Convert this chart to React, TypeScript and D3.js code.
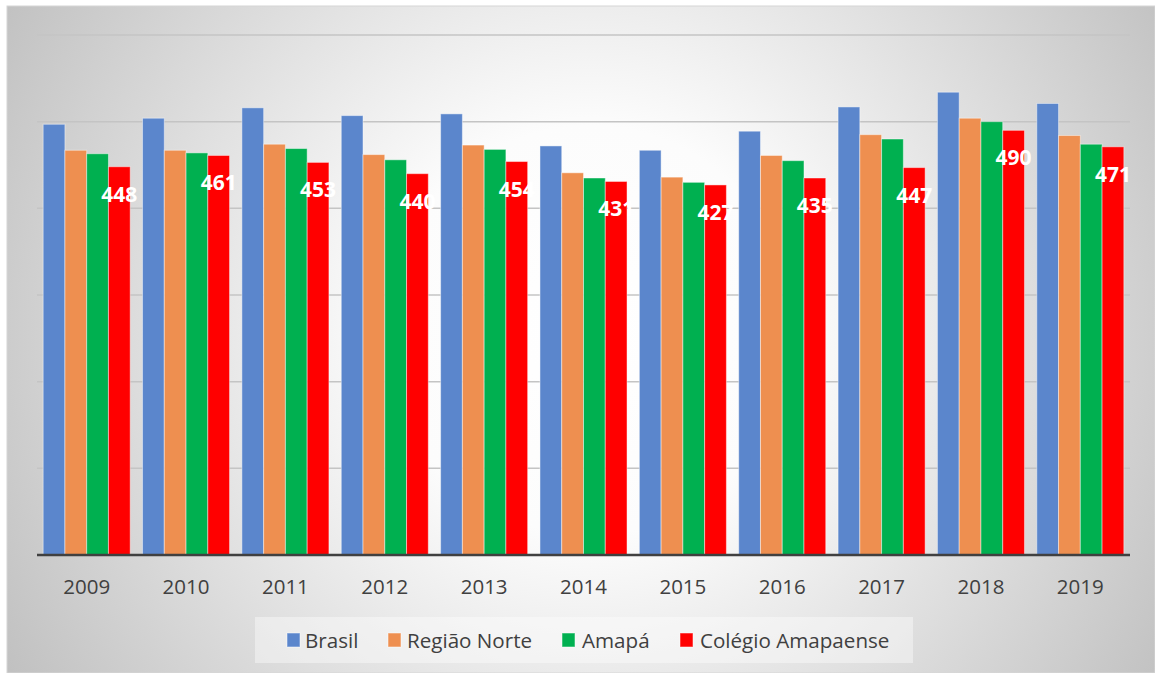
import React from "react";
import * as d3 from "d3";

const years = ["2009", "2010", "2011", "2012", "2013", "2014", "2015", "2016", "2017", "2018", "2019"];
const seriesNames = ["Brasil", "Região Norte", "Amapá", "Colégio Amapaense"];
const brasil = [497, 504, 516, 507, 509, 472, 467, 489, 517, 534, 521];
const regiaoNorte = [467, 467, 474, 462, 473, 441, 436, 461, 485, 504, 484];
const amapa = [463, 464, 469, 456, 468, 435, 430, 455, 480, 500, 474];
const colegio = [448, 461, 453, 440, 454, 431, 427, 435, 447, 490, 471];
const gridTicks = [100, 200, 300, 400, 500, 600];

const colors = ["#5b86cc", "#ee8f50", "#00b050", "#ff0000"];
const font = "'Open Sans', 'DejaVu Sans', sans-serif";

const App = () => {
  const width = 1155;
  const height = 673;
  const series = [brasil, regiaoNorte, amapa, colegio];

  const x = d3.scaleBand().domain(years).range([37, 1130]).paddingInner(0.124).paddingOuter(0.062);
  const xs = d3.scaleBand().domain(seriesNames).range([0, x.bandwidth()]).padding(0);
  const y = d3.scaleLinear().domain([0, 600]).range([555, 35]);

  // legend layout (swatch x, text x)
  const legendItems = [
    { name: seriesNames[0], sx: 287, tx: 305 },
    { name: seriesNames[1], sx: 388, tx: 407 },
    { name: seriesNames[2], sx: 562, tx: 582 },
    { name: seriesNames[3], sx: 680, tx: 700 },
  ];

  return (
    <svg width={width} height={height} style={{ position: "absolute", left: 0, top: 0 }}>
      <defs>
        <radialGradient id="bg" gradientUnits="userSpaceOnUse" cx="590" cy="330" r="680">
          <stop offset="0" stopColor="#ffffff" />
          <stop offset="0.3" stopColor="#fcfcfc" />
          <stop offset="1" stopColor="#c0c0c0" />
        </radialGradient>
      </defs>
      <rect x={0} y={0} width={width} height={height} fill="#ffffff" />
      <rect x={7} y={6} width={width - 7} height={height - 6} fill="url(#bg)" stroke="#d6d6d6" strokeWidth={1} />

      {gridTicks.map((t) => (
        <line key={t} x1={37} x2={1130} y1={y(t)} y2={y(t)} stroke="#c4c4c4" strokeWidth={1.5} />
      ))}

      {years.map((yr, i) => (
        <g key={yr} transform={`translate(${x(yr)},0)`}>
          {series.map((s, j) => (
            <rect
              key={j}
              x={xs(seriesNames[j])}
              y={y(s[i])}
              width={xs.bandwidth()}
              height={y(0) - y(s[i])}
              fill={colors[j]}
              stroke="rgba(255,255,255,0.45)"
              strokeWidth={1}
            />
          ))}
        </g>
      ))}

      <line x1={37} x2={1130} y1={y(0)} y2={y(0)} stroke="#404040" strokeWidth={2.5} />

      {years.map((yr, i) => (
        <text
          key={"lab" + yr}
          x={(x(yr) as number) + (xs(seriesNames[3]) as number) + xs.bandwidth() / 2}
          y={y(colegio[i]) + 35}
          textAnchor="middle"
          fill="#ffffff"
          fontFamily={font}
          fontWeight="bold"
          fontSize={21}
        >
          {colegio[i]}
        </text>
      ))}

      {years.map((yr) => (
        <text
          key={"x" + yr}
          x={(x(yr) as number) + x.bandwidth() / 2}
          y={594}
          textAnchor="middle"
          fill="#404040"
          fontFamily={font}
          fontSize={20.5}
        >
          {yr}
        </text>
      ))}

      <rect x={255} y={617} width={658} height={46} fill="#ffffff" opacity={0.4} />
      {legendItems.map((it, j) => (
        <g key={it.name}>
          <rect x={it.sx} y={633} width={13} height={14} fill={colors[j]} stroke="rgba(255,255,255,0.5)" strokeWidth={1} />
          <text x={it.tx} y={647.5} fill="#404040" fontFamily={font} fontSize={20.6}>
            {it.name}
          </text>
        </g>
      ))}
    </svg>
  );
};

export default App;
